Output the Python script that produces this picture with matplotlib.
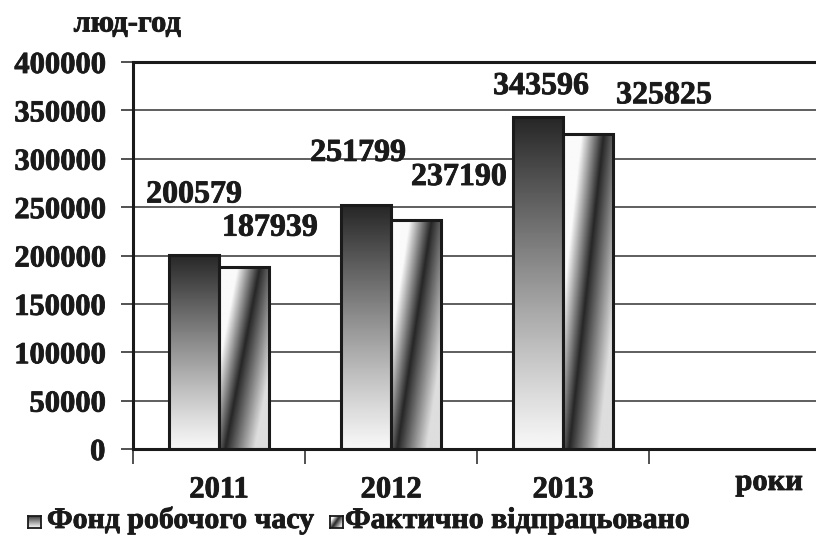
import numpy as np
import matplotlib
matplotlib.use("Agg")
import matplotlib.pyplot as plt
import matplotlib.patheffects as pe
from matplotlib.patches import Rectangle
from matplotlib.text import Text

# дані
years = ["2011", "2012", "2013"]
fond = [200579, 251799, 343596]        # Фонд робочого часу
fakt = [187939, 237190, 325825]        # Фактично відпрацьовано
series_names = ["Фонд робочого часу", "Фактично відпрацьовано"]
y_ticks = [0, 50000, 100000, 150000, 200000, 250000, 300000, 350000, 400000]

plt.rcParams["font.family"] = ["Liberation Serif", "DejaVu Serif"]
plt.rcParams["font.weight"] = "bold"
INK = "#1a1a1a"

W, H = 816, 537
fig = plt.figure(figsize=(W / 100, H / 100), dpi=100)
# область графіка виходить за правий край (як в оригіналі)
ax = fig.add_axes([133 / W, (H - 449) / H, 4 * 172 / W, (449 - 62) / H])


def grad_vertical(n=200):
    t = np.linspace(0, 1, n)[:, None]          # 0 = низ, 1 = верх
    return 0.97 - 0.82 * t ** 1.1


def grad_diag(n=200, m=60):
    yf, xf = np.mgrid[0:1:n * 1j, 0:1:m * 1j]
    c = 0.12 + 0.7 * yf
    d = xf - c
    v = np.where(d < 0,
                 0.15 + 0.83 * np.clip(-d / 0.45, 0, 1),
                 0.15 + 0.72 * np.clip(d / 0.6, 0, 1))
    return v


bw = 0.29
centers = np.arange(len(years)) + 0.5
for i, c in enumerate(centers):
    for k, (vals, g) in enumerate([(fond, grad_vertical()), (fakt, grad_diag())]):
        x0 = c - bw if k == 0 else c
        v = vals[i]
        ax.imshow(g, cmap="gray", vmin=0, vmax=1, origin="lower",
                  extent=[x0, x0 + bw, 0, v], aspect="auto",
                  interpolation="bilinear", zorder=2)
        ax.add_patch(Rectangle((x0, 0), bw, v, fill=False, ec=INK,
                               lw=2.2, zorder=3))

# підписи значень (зміщення в пікселях відносно верху стовпця)
off_fond = [(0, 60), (-8, 52), (3, 30)]
off_fakt = [(26, 39), (43, 42), (76, 38)]
for i, c in enumerate(centers):
    for k, (vals, offs) in enumerate([(fond, off_fond), (fakt, off_fakt)]):
        xc = c - bw / 2 if k == 0 else c + bw / 2
        ax.annotate(str(vals[i]), (xc, vals[i]), xytext=offs[i],
                    textcoords="offset pixels", ha="center", va="center",
                    fontsize=23, fontweight="bold", color=INK, zorder=5)

ax.set_xlim(0, 4)
ax.set_ylim(0, 400000)

ax.set_yticks(y_ticks)
ax.set_yticklabels([str(t) for t in y_ticks])
ax.yaxis.grid(True, color="#333333", lw=1.1)
ax.set_axisbelow(True)

ax.set_xticks([0, 1, 2, 3, 4])
ax.set_xticklabels([])
ax.set_xticks(centers, minor=True)
ax.set_xticklabels(years, minor=True)
ax.tick_params(axis="x", which="major", length=11, width=1.2, direction="out",
               color="#333333")
ax.tick_params(axis="x", which="minor", length=0, pad=19, labelsize=22,
               labelcolor=INK)
ax.tick_params(axis="y", length=9, width=1.2, pad=11, labelsize=22,
               color="#333333", labelcolor=INK)

for s in ["left", "bottom", "top"]:
    ax.spines[s].set_linewidth(2.2)
    ax.spines[s].set_color(INK)
ax.spines["right"].set_visible(False)

fig.text(127 / W, 1 - 24 / H, "люд-год", ha="center", va="center",
         fontsize=22, fontweight="bold", color=INK)
fig.text(769 / W, 1 - 490 / H, "роки", ha="center", va="baseline",
         fontsize=22, fontweight="bold", color=INK)

# легенда
base_y = 528
for k, (x_sw, x_txt, g) in enumerate([(28, 47, grad_vertical(50)),
                                       (330, 345, grad_diag(50, 50))]):
    sax = fig.add_axes([x_sw / W, 1 - 528 / H, 13 / W, 12 / H])
    sax.imshow(g, cmap="gray", vmin=0, vmax=1, origin="lower",
               aspect="auto", interpolation="bilinear")
    sax.set_xticks([])
    sax.set_yticks([])
    for s in sax.spines.values():
        s.set_linewidth(1.3)
        s.set_color(INK)
    fig.text(x_txt / W, 1 - base_y / H, series_names[k], ha="left",
             va="baseline", fontsize=21.5, fontweight="bold", color=INK)

# трохи "жирніший" шрифт, як у оригіналі
for t in fig.findobj(Text):
    t.set_path_effects([pe.withStroke(linewidth=0.6, foreground=INK)])

fig.savefig("out.png", dpi=100)
